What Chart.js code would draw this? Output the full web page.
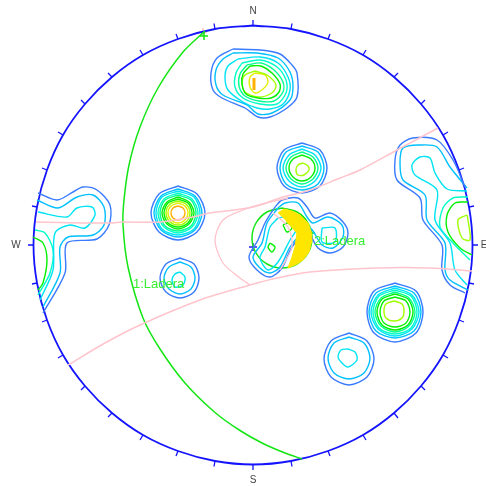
<!DOCTYPE html>
<html lang="en">
<head>
    <meta charset="UTF-8">
    <title>Stereonet contour plot</title>
    <script src="https://cdn.jsdelivr.net/npm/chart.js"></script>
    <style>
        html, body { margin: 0; padding: 0; background: #fff; overflow: hidden; }
        canvas { display: block; }
    </style>
</head>
<body>
    <canvas id="net" width="486" height="486"></canvas>
    <script>
        const rim = [[253,25.5],[291,29],[328,39],[363,55],[394,77],[421,104],[443,135],[459,170],[469,207],[472.5,245],
            [469,283],[459,320],[443,355],[421,386],[394,413],[363,435],[328,451],[291,461],[253,464.5],[215,461],
            [178,451],[143,435],[112,413],[85,386],[63,355],[47,320],[37,283],[33.5,245],[37,207],[47,170],
            [63,135],[85,104],[112,77],[143,55],[178,39],[215,29]];
        const rimTicks = [[253,20],[292,23.5],[330,34],[366,50],[398,73],[425,100],[448,132],[464,168],[474,206],[478,245],
            [474,284],[464,322],[448,358],[425,390],[398,418],[366,440],[330,456],[292,466.5],[253,470],[214,466.5],
            [176,456],[140,440],[108,417],[81,390],[58,358],[42,322],[32,284],[28,245],[32,206],[42,168],
            [58,132],[81,100],[108,73],[140,50],[176,34],[214,23.5]];

        const compassLabels = ['N', 'E', 'S', 'W'];
        const compassSpots = [[253,11],[484,245],[253,480],[16,245]];

        const planeLabels = ['1:Ladera', '2:Ladera'];
        const planeLabelSpots = [[133,284],[314,241]];

        const greatCircleGreen = [[205,31],[183,52],[158,88],[140,127],[129,165],[124,200],[123,225],[128,267],[143,318],
            [160,349],[185,383],[215,412.5],[240,430.5],[263,443.5],[285,453],[302,459]];
        const planeCircle = [[282,208],[297,212],[308,223],[312,238],[308,253],[297,264],[282,268],[267,264],[256,253],[252,238],[256,223],[267,212]];
        const planeCrescent = [[278,213],[284,209],[292,211],[300,215],[308,223],[311,231],[312,240],[309,252],[303,260],[297,264],[288,268],[292,257],[295,247],[297,233],[286,221]];

        const pinkUpper = [[36,222],[110,223],[123,222],[160,222],[193,217],[210,213],[253,207],[280,198],[310,190],[340,178],[360,170],[397,150],[438,128]];
        const pinkLower = [[68,365],[105,343],[140,325],[200,300],[250,285],[277,278],[310,272],[377,268],[430,268],[472,271]];
        const pinkLoop = [[288,198],[262,204],[243,210],[223,220],[215,240],[223,263],[240,278],[250,285]];
        const pinkInner = [[273,213],[288,227],[292,247],[280,270]];

        // contours: level runs from 0 (outermost) to 8 (peak)
        const clusterNorth = [
            [0, 1, [[233,49],[260,50],[280,54],[292,65],[297,73],[297,97],[287,108],[270,117],[258,117],[245,108],[222,98],[213,90],[211,73],[217,58]]],
            [1, 1, [[233,53],[257,53],[278,58],[290,72],[293,87],[290,100],[272,113],[258,114],[247,105],[223,95],[216,85],[216,70],[223,59]]],
            [2, 1, [[238,59],[260,57],[278,63],[288,77],[290,90],[283,104],[270,109],[257,108],[243,102],[228,90],[225,77],[228,66]]],
            [3, 1, [[242,63],[260,60],[277,67],[286,80],[286,93],[277,104],[260,104],[243,98],[235,87],[236,73]]],
            [4, 1, [[247,65],[261,63],[274,70],[283,82],[283,92],[274,101],[259,101],[245,96],[239,86],[240,74]]],
            [5, 1, [[250,66],[261,66],[272,73],[280,84],[279,92],[271,98],[258,98],[246,94],[242,84],[243,74]]],
            [6, 1, [[255,71],[267,75],[276,85],[272,93],[258,97],[245,92],[242,82],[245,75]]],
            [7, 1, [[255,73],[265,75],[268,82],[263,89],[255,93],[250,87],[250,77]]],
            [8, 0, [[254,78],[254,90]]]
        ];
        const clusterMiddle = [
            [0, 1, [[302,143],[320,150],[327,168],[320,186],[302,193],[284,186],[277,168],[284,150]]],
            [1, 1, [[302,146],[318,152],[324,168],[318,184],[302,190],[286,184],[280,168],[286,152]]],
            [2, 1, [[302,149],[315,155],[321,168],[315,181],[302,187],[289,181],[283,168],[289,155]]],
            [4, 1, [[302,152],[313,157],[318,168],[313,179],[302,184],[291,179],[286,168],[291,157]]],
            [5, 1, [[302,155],[311,159],[315,168],[311,177],[302,181],[293,177],[289,168],[293,159]]],
            [6, 1, [[303,163],[308,166],[309,170],[304,175],[298,175],[296,170],[298,165]]]
        ];
        const clusterLeft = [
            [0, 1, [[178,186],[197,194],[205,213],[197,232],[178,240],[159,232],[151,213],[159,194]]],
            [1, 1, [[178,189],[195,196],[202,213],[195,230],[178,237],[161,230],[154,213],[161,196]]],
            [2, 1, [[178,191],[194,197],[200,213],[194,229],[178,235],[162,229],[156,213],[162,197]]],
            [3, 1, [[178,193],[192,199],[198,213],[192,227],[178,233],[164,227],[158,213],[164,199]]],
            [4, 1, [[178,195],[191,200],[196,213],[191,226],[178,231],[165,226],[160,213],[165,200]]],
            [5, 1, [[178,197],[189,202],[194,213],[189,224],[178,229],[167,224],[162,213],[167,202]]],
            [5, 1, [[178,199],[188,203],[192,213],[188,223],[178,227],[168,223],[164,213],[168,203]]],
            [6, 1, [[178,201],[186,204],[190,213],[186,222],[178,225],[170,222],[166,213],[170,204]]],
            [7, 1, [[178,203],[185,206],[188,213],[185,220],[178,223],[171,220],[168,213],[171,206]]],
            [8, 1, [[178,206],[183,208],[185,213],[183,218],[178,220],[173,218],[171,213],[173,208]]]
        ];
        const clusterLowerLeft = [
            [0, 1, [[180,258],[194,264],[199,278],[194,292],[180,298],[166,292],[160,278],[166,264]]],
            [1, 1, [[180,262],[191,267],[195,278],[191,289],[180,294],[169,289],[164,278],[169,267]]],
            [2, 1, [[180,272],[185,277],[183,285],[175,287],[172,280],[175,274]]]
        ];
        const clusterLowerRight = [
            [0, 1, [[395,283],[416,291],[423,312],[416,333],[395,342],[374,333],[367,312],[374,291]]],
            [1, 1, [[395,286],[414,293],[421,312],[414,331],[395,338],[376,331],[369,312],[376,293]]],
            [2, 1, [[395,288],[412,295],[419,312],[412,329],[395,336],[378,329],[371,312],[378,295]]],
            [3, 1, [[395,290],[411,296],[417,312],[411,328],[395,334],[379,328],[373,312],[379,296]]],
            [4, 1, [[395,292],[409,298],[415,312],[409,326],[395,332],[381,326],[375,312],[381,298]]],
            [5, 1, [[395,294],[408,299],[413,312],[408,325],[395,330],[382,325],[377,312],[382,299]]],
            [5, 1, [[395,297],[406,301],[410,312],[406,323],[395,327],[384,323],[380,312],[384,301]]],
            [6, 1, [[394,301],[402,304],[404,311],[402,318],[394,321],[386,318],[384,311],[386,304]]]
        ];
        const clusterBottom = [
            [0, 1, [[349,333],[367,341],[374,359],[367,377],[349,385],[331,377],[324,359],[331,341]]],
            [1, 1, [[349,337],[364,343],[370,358],[364,373],[349,379],[334,373],[328,358],[334,343]]],
            [2, 1, [[348,349],[355,352],[357,360],[348,367],[342,363],[338,357],[341,350]]]
        ];
        const clusterWest = [
            [0, 0, [[38,193],[57,200],[73,192],[83,187],[97,190],[110,205],[109,225],[97,239],[67,243],[65,273],[43,313]]],
            [1, 0, [[37,200],[58,208],[77,197],[93,195],[104,207],[104,225],[93,235],[68,237],[60,247],[60,273],[43,307]]],
            [2, 0, [[38,212],[67,217],[77,208],[92,207],[95,215],[85,228],[70,225],[55,233],[53,270],[40,300]]],
            [3, 0, [[35,230],[45,233],[53,250],[50,273],[38,295]]],
            [5, 0, [[33,237],[43,243],[47,260],[43,283],[38,290]]]
        ];
        const clusterEast = [
            [0, 0, [[465,187],[453,160],[437,140],[413,138],[400,145],[395,160],[397,180],[420,198],[423,220],[442,245],[442,270],[450,285],[465,293]]],
            [1, 0, [[467,188],[450,167],[437,147],[420,145],[403,148],[400,163],[403,180],[425,195],[427,220],[445,243],[445,270],[450,280],[468,290]]],
            [2, 0, [[467,191],[447,189],[435,173],[430,158],[420,157],[412,165],[415,175],[437,190],[435,220],[450,243],[455,270],[467,285]]],
            [3, 0, [[468,197],[453,198],[443,208],[440,227],[453,243],[470,260]]],
            [5, 0, [[468,202],[455,203],[447,215],[448,232],[460,248],[472,255]]],
            [6, 1, [[467,215],[458,220],[462,238],[470,240],[468,220]]]
        ];
        const clusterCentre = [
            [0, 1, [[275,207],[282,200],[298,198],[307,207],[315,218],[330,213],[343,222],[348,233],[343,247],[330,253],[318,248],[307,232],[292,247],[282,268],[270,277],[257,270],[249,257],[258,240],[265,223]]],
            [1, 1, [[278,208],[285,203],[298,203],[307,217],[313,223],[328,217],[342,225],[343,237],[333,248],[322,245],[310,228],[300,235],[290,247],[280,267],[270,273],[260,268],[253,257],[262,243],[267,223]]],
            [2, 1, [[278,218],[288,217],[297,227],[290,240],[278,262],[268,270],[260,258],[265,247],[270,227]]],
            [2, 1, [[322,228],[335,228],[335,242],[322,242]]],
            [5, 1, [[270,243],[275,247],[272,252],[268,247]]],
            [5, 1, [[283,225],[288,223],[292,228],[287,232]]]
        ];
        const bluePoles = [[253,247],[308,231]];
        const greenPoles = [[204,36],[311,233]];
        const pinkPoles = [[203,32]];

        const levelColours = ['#3a7bff', '#00c0ff', '#00e4f4', '#00ffc8', '#00ff90', '#00f000', '#a0ff00', '#e4ee00', '#ffb000'];

        function toPoints(pairs) {
            return pairs.map(p => ({ x: p[0], y: p[1] }));
        }

        function contourSets(cluster) {
            return cluster.map(c => ({
                data: toPoints(c[1] ? c[2].concat([c[2][0]]) : c[2]),
                borderColor: levelColours[c[0]],
                borderWidth: c[0] === 8 && !c[1] ? 3 : 1.4,
                tension: 0.3
            }));
        }

        function plainLine(pairs, colour, width) {
            return { data: toPoints(pairs), borderColor: colour, borderWidth: width, tension: 0.3 };
        }

        function poleSet(pairs, colour) {
            return { data: toPoints(pairs), showLine: false, pointStyle: 'cross', pointRadius: 4, pointBorderWidth: 1.5, pointBorderColor: colour };
        }

        // ticks: rim point, tick end, gap
        const tickPoints = [];
        rim.forEach((p, i) => {
            tickPoints.push({ x: p[0], y: p[1] }, { x: rimTicks[i][0], y: rimTicks[i][1] }, { x: null, y: null });
        });

        const datasets = [
            { data: toPoints(planeCrescent), borderColor: '#ffe600', backgroundColor: '#ffe600', borderWidth: 1, fill: 'shape', tension: 0 },
            plainLine(pinkUpper, '#ffc4cc', 1.5),
            plainLine(pinkLower, '#ffc4cc', 1.5),
            plainLine(pinkLoop, '#ffc4cc', 1.3),
            plainLine(pinkInner, '#ffc4cc', 1.3),
            ...contourSets(clusterNorth),
            ...contourSets(clusterMiddle),
            ...contourSets(clusterLeft),
            ...contourSets(clusterLowerLeft),
            ...contourSets(clusterLowerRight),
            ...contourSets(clusterBottom),
            ...contourSets(clusterWest),
            ...contourSets(clusterEast),
            ...contourSets(clusterCentre),
            plainLine(greatCircleGreen, '#14e614', 1.5),
            plainLine(planeCircle.concat([planeCircle[0]]), '#14e614', 1.5),
            { data: toPoints(rim.concat([rim[0]])), borderColor: '#1414ff', borderWidth: 1.8, tension: 0.33 },
            { data: tickPoints, borderColor: '#1414ff', borderWidth: 1.3, spanGaps: false, tension: 0 },
            poleSet(bluePoles, '#2a1eff'),
            poleSet(greenPoles, '#14e614'),
            poleSet(pinkPoles, '#ffc4cc')
        ];

        // text labels placed through the chart's scales
        const netLabels = {
            id: 'netLabels',
            afterDatasetsDraw(chart) {
                const ctx = chart.ctx;
                const sx = chart.scales.x, sy = chart.scales.y;
                ctx.save();
                ctx.textBaseline = 'middle';
                ctx.font = '10px "Liberation Sans"';
                ctx.fillStyle = '#444';
                ctx.textAlign = 'center';
                compassLabels.forEach((t, i) => {
                    ctx.fillText(t, sx.getPixelForValue(compassSpots[i][0]), sy.getPixelForValue(compassSpots[i][1]));
                });
                ctx.font = '13px "Liberation Sans"';
                ctx.fillStyle = '#38ee30';
                ctx.textAlign = 'left';
                planeLabels.forEach((t, i) => {
                    ctx.fillText(t, sx.getPixelForValue(planeLabelSpots[i][0]), sy.getPixelForValue(planeLabelSpots[i][1]));
                });
                ctx.restore();
            }
        };

        new Chart(document.getElementById('net').getContext('2d'), {
            type: 'scatter',
            data: { datasets: datasets },
            plugins: [netLabels],
            options: {
                responsive: false,
                animation: false,
                showLine: true,
                elements: { point: { radius: 0 } },
                layout: { padding: 0, autoPadding: false },
                plugins: { legend: { display: false }, tooltip: { enabled: false } },
                scales: {
                    x: { type: 'linear', min: 0, max: 486, display: false },
                    y: { type: 'linear', min: 0, max: 486, reverse: true, display: false }
                }
            }
        });
    </script>
</body>
</html>
